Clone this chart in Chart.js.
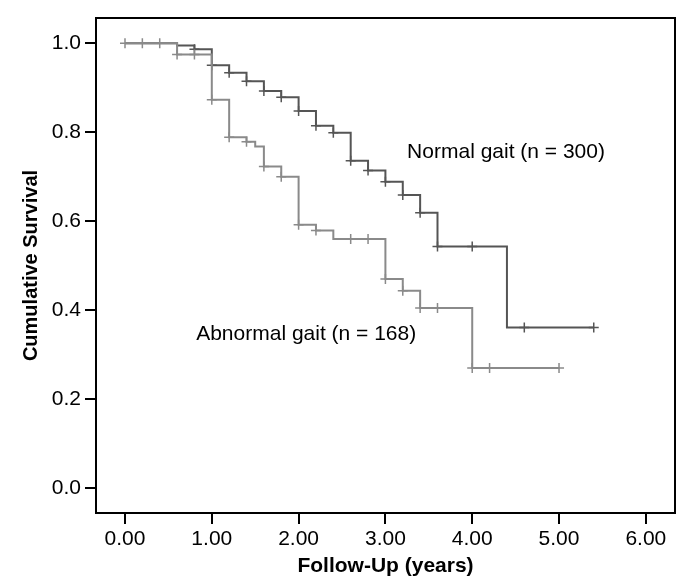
<!DOCTYPE html>
<html>
<head>
<meta charset="utf-8">
<script src="https://cdn.jsdelivr.net/npm/chart.js@4.4.1/dist/chart.umd.min.js"></script>
<style>
  html, body { margin: 0; padding: 0; background: #fff; }
  #wrap { width: 685px; height: 586px; }
</style>
</head>
<body>
<div id="wrap"><canvas id="chart"></canvas></div>
<script>
// Normal gait (n = 300): event times (years) and survival after each step
const normalTimes = [0, 0.6, 0.8, 1.0, 1.2, 1.4, 1.6, 1.8, 2.0, 2.2, 2.4, 2.6, 2.8, 3.0, 3.2, 3.4, 3.6, 4.4, 5.4];
const normalSurv = [1.0, 0.995, 0.987, 0.951, 0.934, 0.915, 0.893, 0.879, 0.848, 0.815, 0.799, 0.736, 0.714, 0.689, 0.659, 0.619, 0.543, 0.361, 0.361];
const normalCensored = [0.8, 1.0, 1.2, 1.4, 1.6, 1.8, 2.0, 2.2, 2.4, 2.6, 2.8, 3.0, 3.2, 3.4, 3.6, 4.0, 4.6, 5.4];

// Abnormal gait (n = 168)
const abnormalTimes = [0, 0.6, 1.0, 1.2, 1.4, 1.5, 1.6, 1.8, 2.0, 2.2, 2.4, 3.0, 3.2, 3.4, 4.0, 5.0];
const abnormalSurv = [1.0, 0.975, 0.873, 0.789, 0.779, 0.768, 0.723, 0.700, 0.592, 0.579, 0.560, 0.470, 0.444, 0.405, 0.270, 0.270];
const abnormalCensored = [0, 0.2, 0.4, 0.6, 0.8, 1.0, 1.2, 1.4, 1.6, 1.8, 2.0, 2.2, 2.6, 2.8, 3.0, 3.2, 3.4, 3.6, 4.0, 4.2, 5.0];

const xTicks = [0, 1, 2, 3, 4, 5, 6];
const yTicks = [0, 0.2, 0.4, 0.6, 0.8, 1.0];

const darkGrey = '#555555';
const lightGrey = '#8a8a8a';
const fontFamily = '"Liberation Sans", Arial, Helvetica, sans-serif';

function toPoints(times, surv) {
    return times.map((t, i) => ({ x: t, y: surv[i] }));
}

// survival level at time t, read from the step arrays
function levelAt(times, surv, t) {
    let v = surv[0];
    for (let i = 0; i < times.length; i++) {
        if (times[i] <= t + 1e-9) v = surv[i];
    }
    return v;
}

function censorPoints(censored, times, surv) {
    return censored.map(t => ({ x: t, y: levelAt(times, surv, t) }));
}

// labels placed in data units
const curveLabels = [
    { text: 'Normal gait (n = 300)', x: 3.25, y: 0.756 },
    { text: 'Abnormal gait (n = 168)', x: 0.82, y: 0.346 },
];

const frame = {
    id: 'frame',
    afterDraw(chart) {
        const { ctx, chartArea: a } = chart;
        ctx.save();
        ctx.strokeStyle = '#000';
        ctx.lineWidth = 2;
        ctx.strokeRect(a.left, a.top, a.right - a.left, a.bottom - a.top);
        ctx.restore();
    }
};

const labelsPlugin = {
    id: 'curveLabels',
    afterDatasetsDraw(chart) {
        const { ctx, scales } = chart;
        ctx.save();
        ctx.fillStyle = '#000';
        ctx.font = '21px ' + fontFamily;
        ctx.textAlign = 'left';
        ctx.textBaseline = 'middle';
        curveLabels.forEach(l => {
            ctx.fillText(l.text, scales.x.getPixelForValue(l.x), scales.y.getPixelForValue(l.y));
        });
        ctx.restore();
    }
};

const ctx = document.getElementById('chart').getContext('2d');
const chart = new Chart(ctx, {
    type: 'scatter',
    data: {
        datasets: [
            {
                label: 'Abnormal gait',
                data: toPoints(abnormalTimes, abnormalSurv),
                showLine: true,
                stepped: 'before',
                borderColor: lightGrey,
                borderWidth: 2,
                pointRadius: 0,
                fill: false,
            },
            {
                label: 'Abnormal censored',
                data: censorPoints(abnormalCensored, abnormalTimes, abnormalSurv),
                showLine: false,
                pointStyle: 'cross',
                pointRadius: 5,
                pointBorderWidth: 1.5,
                borderColor: lightGrey,
                backgroundColor: lightGrey,
            },
            {
                label: 'Normal gait',
                data: toPoints(normalTimes, normalSurv),
                showLine: true,
                stepped: 'before',
                borderColor: darkGrey,
                borderWidth: 2,
                pointRadius: 0,
                fill: false,
            },
            {
                label: 'Normal censored',
                data: censorPoints(normalCensored, normalTimes, normalSurv),
                showLine: false,
                pointStyle: 'cross',
                pointRadius: 5,
                pointBorderWidth: 1.5,
                borderColor: darkGrey,
                backgroundColor: darkGrey,
            },
        ],
    },
    options: {
        responsive: true,
        maintainAspectRatio: false,
        animation: false,
        layout: { padding: { top: 18, right: 10, left: 0, bottom: 0 } },
        plugins: {
            legend: { display: false },
            tooltip: { enabled: false },
        },
        scales: {
            x: {
                type: 'linear',
                min: -0.334,
                max: 6.336,
                afterBuildTicks: s => { s.ticks = xTicks.map(v => ({ value: v })); },
                afterFit: s => { s.height = 73; },
                ticks: {
                    callback: v => Number(v).toFixed(2),
                    color: '#000',
                    font: { family: fontFamily, size: 21 },
                    padding: 3,
                    maxRotation: 0,
                },
                grid: { drawOnChartArea: false, drawTicks: true, tickLength: 11, color: '#000', lineWidth: 2 },
                border: { display: false },
                title: {
                    display: true,
                    text: 'Follow-Up (years)',
                    color: '#000',
                    font: { family: fontFamily, size: 21, weight: 'bold' },
                    padding: { top: 0, bottom: 7 },
                },
            },
            y: {
                type: 'linear',
                min: -0.056,
                max: 1.057,
                afterBuildTicks: s => { s.ticks = yTicks.map(v => ({ value: v })); },
                afterFit: s => { s.width = 96; },
                ticks: {
                    callback: v => Number(v).toFixed(1),
                    color: '#000',
                    font: { family: fontFamily, size: 21 },
                    padding: 4,
                },
                grid: { drawOnChartArea: false, drawTicks: true, tickLength: 11, color: '#000', lineWidth: 2 },
                border: { display: false },
                title: {
                    display: true,
                    text: 'Cumulative Survival',
                    color: '#000',
                    font: { family: fontFamily, size: 20, weight: 'bold' },
                    padding: { top: 19, bottom: 0 },
                },
            },
        },
    },
    plugins: [frame, labelsPlugin],
});
</script>
</body>
</html>
